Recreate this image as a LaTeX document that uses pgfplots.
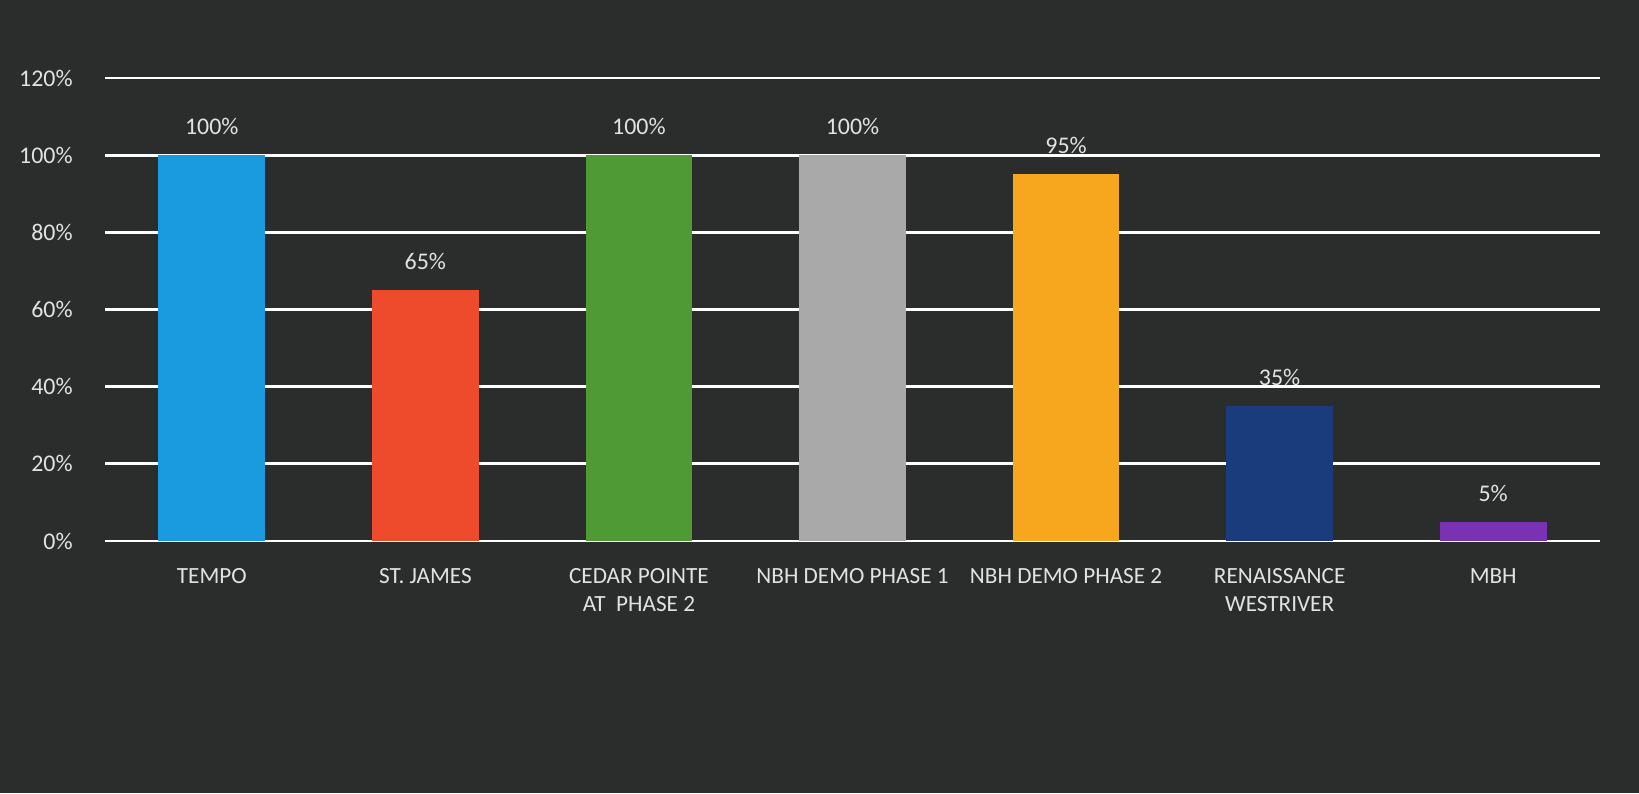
\documentclass[border=0pt]{standalone}
\usepackage{pgfplots}
\pgfplotsset{compat=1.18}
\usepackage{fontspec}
\setmainfont{Carlito}
\definecolor{bg}{HTML}{2B2C2C}
\definecolor{txt}{HTML}{E2E2E2}
\definecolor{cblue}{HTML}{1A9BE0}
\definecolor{cred}{HTML}{EE4A2C}
\definecolor{cgreen}{HTML}{4F9A35}
\definecolor{cgray}{HTML}{A8A9A8}
\definecolor{corange}{HTML}{F6A71E}
\definecolor{cnavy}{HTML}{1B3C7C}
\definecolor{cpurple}{HTML}{7A32B4}
\begin{document}
\begin{tikzpicture}
\fill[bg] (0,0) rectangle (163.9mm,79.3mm);
\begin{axis}[
  at={(10.5mm,25.2mm)}, anchor=south west,
  width=149.5mm, height=46.3mm, scale only axis,
  ybar, bar shift=0pt, bar width=0.5,
  xmin=-0.5, xmax=6.5, ymin=0, ymax=120,
  axis line style={draw=none},
  ytick={0,20,40,60,80,100,120},
  yticklabel={\pgfmathprintnumber{\tick}\%},
  /pgf/number format/assume math mode=true,
  ymajorgrids, grid style={white, line width=0.8pt},
  major tick length=0pt,
  xtick={0,1,2,3,4,5,6},
  xticklabels={TEMPO,ST. JAMES,{CEDAR POINTE\\AT\ \ PHASE 2},NBH DEMO PHASE 1,NBH DEMO PHASE 2,{RENAISSANCE\\WESTRIVER},MBH},
  xticklabel style={align=center, text=txt, font=\fontsize{6.6}{8}\selectfont, yshift=-1.5mm},
  yticklabel style={text=txt, font=\fontsize{6.8}{8}\selectfont, xshift=-2mm},
  nodes near coords={\pgfmathprintnumber{\pgfplotspointmeta}\%},
  nodes near coords style={text=txt, font=\fontsize{6.8}{8}\selectfont, yshift=0.8mm},
  point meta=y,
  clip=false,
]
\addplot[fill=cblue, draw=none] coordinates {(0,100)};
\addplot[fill=cred, draw=none] coordinates {(1,65)};
\addplot[fill=cgreen, draw=none] coordinates {(2,100)};
\addplot[fill=cgray, draw=none] coordinates {(3,100)};
\addplot[fill=corange, draw=none] coordinates {(4,95)};
\addplot[fill=cnavy, draw=none] coordinates {(5,35)};
\addplot[fill=cpurple, draw=none] coordinates {(6,5)};
\end{axis}
\end{tikzpicture}
\end{document}
